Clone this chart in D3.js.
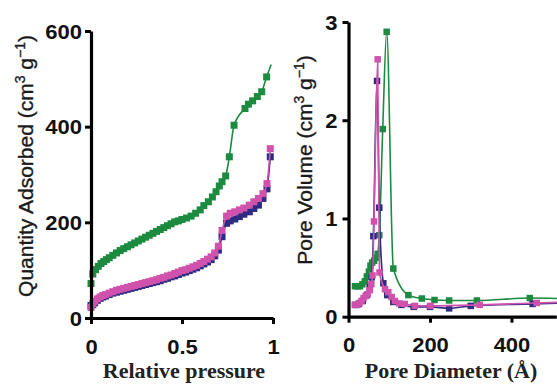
<!DOCTYPE html>
<html>
<head>
<meta charset="utf-8">
<script src="https://cdn.jsdelivr.net/npm/d3@7"></script>
<style>
  body { margin: 0; background: #fff; }
  svg { display: block; }
</style>
</head>
<body>
<div class="chart"></div>
<script>
// isotherm, left panel (relative pressure vs quantity adsorbed)
var isoGreenX = [0, 0.01, 0.025, 0.04, 0.055, 0.07, 0.085, 0.1, 0.12, 0.14, 0.16, 0.18, 0.2, 0.22, 0.24, 0.26, 0.28, 0.3, 0.32, 0.34, 0.36, 0.38, 0.4, 0.42, 0.44, 0.46, 0.48, 0.5, 0.525, 0.55, 0.575, 0.6, 0.62, 0.645, 0.667, 0.687, 0.705, 0.72, 0.74, 0.76, 0.786, 0.846, 0.865, 0.888, 0.914, 0.938, 0.965, 0.99];
var isoGreenY = [72, 92, 101, 108, 114, 118, 122, 126, 131, 136, 141, 145, 149, 153, 157, 161, 165, 169, 173, 177, 181, 185, 189, 193, 197, 201, 203, 206, 209, 213, 219, 226, 235, 243, 253, 264, 276, 285, 297, 337, 403, 438, 447, 454, 463, 473, 504, 530];

var isoX = [0, 0.01, 0.02, 0.035, 0.05, 0.065, 0.08, 0.1, 0.12, 0.14, 0.16, 0.18, 0.2, 0.22, 0.24, 0.26, 0.28, 0.3, 0.32, 0.34, 0.36, 0.38, 0.4, 0.42, 0.44, 0.46, 0.48, 0.5, 0.52, 0.54, 0.56, 0.58, 0.6, 0.62, 0.64, 0.66, 0.68, 0.7, 0.72, 0.745, 0.765, 0.79, 0.815, 0.84, 0.87, 0.895, 0.92, 0.945, 0.967, 0.985];
var isoPinkY = [22, 30, 35, 40, 44, 47, 49, 52, 55, 58, 60, 62, 64, 66, 68, 70, 72, 74, 76, 78, 80, 83, 85, 88, 90, 93, 96, 99, 101, 104, 107, 110, 114, 118, 123, 128, 136, 150, 183, 213, 219, 222, 226, 230, 236, 243, 250, 260, 281, 354];
var isoNavyY = [26, 28, 32, 37, 41, 44, 46, 49, 52, 54, 56, 58, 60, 62, 64, 66, 68, 70, 72, 74, 76, 78, 81, 83, 86, 88, 91, 94, 96, 99, 102, 105, 109, 113, 117, 122, 130, 142, 170, 198, 203, 207, 212, 217, 222, 229, 236, 250, 270, 337];

// pore size distribution, right panel
var psdGreenX = [16, 22, 28, 34, 40, 45, 50, 54, 58, 63, 67, 71.6, 75.6, 84, 93.7, 110, 147, 180, 211, 247, 315, 445, 620];
var psdGreenY = [0.31, 0.31, 0.31, 0.33, 0.36, 0.41, 0.46, 0.52, 0.55, 0.57, 0.6, 0.64, 0.83, 1.91, 2.9, 0.49, 0.22, 0.185, 0.17, 0.165, 0.165, 0.19, 0.17];
var psdPinkX = [16, 22, 27, 32, 37, 42, 47, 52, 56, 59, 62.6, 71.6, 76, 89.6, 97.7, 106, 114, 124.7, 138, 163, 201, 322, 462, 620];
var psdPinkY = [0.12, 0.12, 0.14, 0.16, 0.19, 0.21, 0.23, 0.27, 0.33, 0.42, 0.97, 2.62, 0.45, 0.28, 0.25, 0.2, 0.16, 0.135, 0.13, 0.11, 0.11, 0.12, 0.14, 0.16];
var psdNavyX = [16, 25, 35, 45, 52, 57, 61, 70, 75.6, 85.5, 95, 110, 130, 160, 200, 247, 300, 452, 620];
var psdNavyY = [0.12, 0.13, 0.16, 0.22, 0.3, 0.4, 0.82, 2.4, 1.11, 0.34, 0.22, 0.15, 0.12, 0.1, 0.1, 0.085, 0.11, 0.13, 0.15];

var isoTicksX = [0, 0.5, 1], isoTicksY = [0, 200, 400, 600];
var psdTicksX = [0, 200, 400], psdTicksY = [0, 1, 2, 3];

var GREEN = "#1c8b3f", PINK = "#d052ad", NAVY = "#2d2b82";

var svg = d3.select(".chart").append("svg")
    .attr("width", 557)
    .attr("height", 388);
svg.append("rect").attr("width", 557).attr("height", 388).attr("fill", "#fff");

var zip = function (xs, ys) { return xs.map(function (x, i) { return [x, ys[i]]; }); };

var drawPanel = function (p) {
    var g = svg.append("g");
    var x = d3.scaleLinear().domain(p.xDomain).range(p.xRange);
    var y = d3.scaleLinear().domain(p.yDomain).range(p.yRange);

    var line = d3.line()
        .x(function (d) { return x(d[0]); })
        .y(function (d) { return y(d[1]); })
        .curve(d3.curveMonotoneX);

    p.series.forEach(function (s) {
        g.append("path")
            .attr("d", line(s.data))
            .attr("fill", "none")
            .attr("stroke", s.color)
            .attr("stroke-width", 1.6);
        g.selectAll(null)
            .data(s.data.filter(function (d, i) { return !(s.noLastMark && i === s.data.length - 1); }))
            .enter()
            .append("rect")
            .attr("x", function (d) { return x(d[0]) - p.mark / 2; })
            .attr("y", function (d) { return y(d[1]) - p.mark / 2; })
            .attr("width", p.mark)
            .attr("height", p.mark)
            .attr("fill", s.color);
    });

    var ax = g.append("g")
        .attr("transform", "translate(0," + p.yRange[0] + ")")
        .call(d3.axisBottom(x).tickValues(p.xTicks).tickSize(6).tickSizeOuter(0).tickFormat(d3.format("")));
    var ay = g.append("g")
        .attr("transform", "translate(" + p.xRange[0] + ",0)")
        .call(d3.axisLeft(y).tickValues(p.yTicks).tickSize(6).tickSizeOuter(0).tickFormat(d3.format("")));

    [ax, ay].forEach(function (a) {
        a.select(".domain").attr("stroke", "#000").attr("stroke-width", 3.2);
        a.selectAll(".tick line").attr("stroke", "#000").attr("stroke-width", 3);
        a.selectAll(".tick text")
            .attr("font-family", "'Liberation Sans', Arial, sans-serif")
            .attr("font-weight", "bold")
            .attr("font-size", 20)
            .attr("fill", "#111");
    });
    ax.selectAll(".tick text").attr("y", 0).attr("dy", 0)
        .attr("transform", "translate(0," + (p.xLabelY - p.yRange[0]) + ") scale(1.1,1)");
    ay.selectAll(".tick text").attr("x", 0).attr("dy", "0.36em")
        .attr("transform", "translate(" + (-p.yLabelGap) + ",0) scale(1.1,1)");

    // x title (bold serif)
    svg.append("text")
        .attr("transform", "translate(" + p.xTitleX + ",378) scale(1.1,1)")
        .attr("text-anchor", "middle")
        .attr("font-family", "'Liberation Serif', 'Times New Roman', serif")
        .attr("font-weight", "bold")
        .attr("font-size", 20)
        .attr("fill", "#222")
        .text(p.xTitle);

    // y title with superscripts
    var t = svg.append("text")
        .attr("transform", "translate(" + p.yTitleX + "," + p.yTitleY + ") rotate(-90)")
        .attr("text-anchor", "middle")
        .attr("font-family", "'Liberation Sans', Arial, sans-serif")
        .attr("font-size", p.yTitleSize)
        .attr("fill", "#1a1a1a")
        .attr("stroke", "#1a1a1a")
        .attr("stroke-width", 0.35);
    t.append("tspan").text(p.yTitle + " (cm");
    t.append("tspan").attr("dy", -8).attr("font-size", 14).text("3");
    t.append("tspan").attr("dy", 8).text(" g");
    t.append("tspan").attr("dy", -8).attr("font-size", 14).text("\u22121");
    t.append("tspan").attr("dy", 8).text(")");
};

drawPanel({
    xDomain: [0, 1], xRange: [91, 273],
    yDomain: [0, 600], yRange: [318, 31],
    xTicks: isoTicksX, yTicks: isoTicksY,
    xLabelY: 354, yLabelGap: 9, mark: 7,
    xTitle: "Relative pressure", xTitleX: 184,
    yTitle: "Quantity Adsorbed", yTitleX: 33, yTitleY: 166, yTitleSize: 21,
    series: [
        { data: zip(isoGreenX, isoGreenY), color: GREEN, noLastMark: true },
        { data: zip(isoX, isoNavyY), color: NAVY },
        { data: zip(isoX, isoPinkY), color: PINK }
    ]
});

drawPanel({
    xDomain: [0, 510], xRange: [348.5, 556.3],
    yDomain: [0, 3], yRange: [316.7, 22],
    xTicks: psdTicksX, yTicks: psdTicksY,
    xLabelY: 352, yLabelGap: 11, mark: 6.5,
    xTitle: "Pore Diameter (\u00c5)", xTitleX: 451,
    yTitle: "Pore Volume", yTitleX: 312, yTitleY: 160, yTitleSize: 21,
    series: [
        { data: zip(psdGreenX, psdGreenY), color: GREEN },
        { data: zip(psdNavyX, psdNavyY), color: NAVY },
        { data: zip(psdPinkX, psdPinkY), color: PINK }
    ]
});
</script>
</body>
</html>
